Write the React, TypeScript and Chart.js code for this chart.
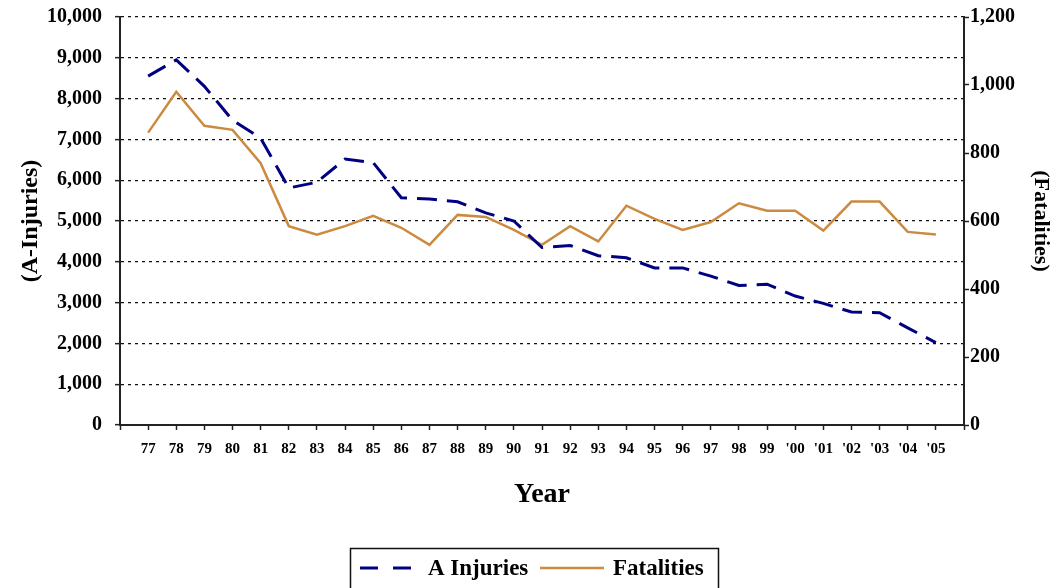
import React, { useEffect, useRef } from "react";
import { Chart, registerables } from "chart.js";

Chart.register(...registerables);

const years = [
  "77", "78", "79", "80", "81", "82", "83", "84", "85", "86",
  "87", "88", "89", "90", "91", "92", "93", "94", "95", "96",
  "97", "98", "99", "'00", "'01", "'02", "'03", "'04", "'05",
];

const aInjuries = [
  8550, 8950, 8300, 7470, 7030, 5810, 5950, 6520, 6430, 5570,
  5540, 5470, 5200, 5000, 4350, 4400, 4150, 4100, 3850, 3850,
  3650, 3420, 3450, 3160, 2980, 2770, 2750, 2380, 2020,
];

const fatalities = [
  860, 980, 880, 868, 770, 585, 560, 585, 615, 580,
  530, 618, 612, 574, 530, 585, 540, 645, 606, 574,
  597, 652, 630, 630, 572, 657, 657, 568, 560,
];

const leftTicksMax = 10000;
const leftStep = 1000;
const rightTicksMax = 1200;
const rightStep = 200;

const FONT = "'Liberation Serif', 'Times New Roman', serif";
const NAVY = "#000080";
const ORANGE = "#CC8A40";

const legendPlugin = {
  id: "boxLegend",
  afterDraw(chart: any) {
    const ctx = chart.ctx as CanvasRenderingContext2D;
    const ds = chart.data.datasets;
    ctx.save();
    ctx.strokeStyle = "#111";
    ctx.lineWidth = 1.5;
    ctx.strokeRect(350.5, 548.5, 368, 60);
    const y = 568;
    ctx.lineWidth = 3;
    ctx.strokeStyle = NAVY;
    ctx.setLineDash([18, 15]);
    ctx.beginPath();
    ctx.moveTo(360, y);
    ctx.lineTo(416, y);
    ctx.stroke();
    ctx.setLineDash([]);
    ctx.strokeStyle = ORANGE;
    ctx.lineWidth = 2.5;
    ctx.beginPath();
    ctx.moveTo(540, y);
    ctx.lineTo(604, y);
    ctx.stroke();
    ctx.fillStyle = "#000";
    ctx.font = `bold 23px ${FONT}`;
    ctx.textBaseline = "middle";
    ctx.textAlign = "left";
    ctx.fillText(ds[0].label, 428, y + 1);
    ctx.fillText(ds[1].label, 613, y + 1);
    ctx.restore();
  },
};

export default function App() {
  const ref = useRef<HTMLCanvasElement | null>(null);

  useEffect(() => {
    if (!ref.current) return;
    const labels = ["", ...years, ""];
    const chart = new Chart(ref.current, {
      type: "line",
      data: {
        labels,
        datasets: [
          {
            label: "A Injuries",
            data: [null, ...aInjuries, null],
            yAxisID: "y",
            borderColor: NAVY,
            backgroundColor: NAVY,
            borderWidth: 3,
            borderDash: [20, 10],
            pointRadius: 0,
            tension: 0,
            fill: false,
          },
          {
            label: "Fatalities",
            data: [null, ...fatalities, null],
            yAxisID: "y1",
            borderColor: ORANGE,
            backgroundColor: ORANGE,
            borderWidth: 2.5,
            pointRadius: 0,
            tension: 0,
            fill: false,
          },
        ],
      },
      options: {
        animation: false,
        responsive: false,
        devicePixelRatio: 1,
        layout: { padding: { top: 17, left: 0, right: 0, bottom: 0 } },
        plugins: {
          legend: { display: false },
          tooltip: { enabled: false },
        },
        scales: {
          x: {
            type: "category",
            offset: false,
            grid: {
              drawOnChartArea: false,
              drawTicks: true,
              tickLength: 5,
              tickColor: "#222",
              tickWidth: 1.5,
            },
            border: { color: "#222", width: 2 },
            ticks: {
              autoSkip: false,
              maxRotation: 0,
              minRotation: 0,
              padding: 10,
              color: "#000",
              font: { family: FONT, size: 15, weight: "bold" },
            },
            title: {
              display: true,
              text: "Year",
              color: "#000",
              font: { family: FONT, size: 28, weight: "bold" },
              padding: { top: 0, bottom: 76 },
            },
            afterFit: (s: any) => {
              s.height = 163;
            },
          },
          y: {
            position: "left",
            min: 0,
            max: leftTicksMax,
            grid: {
              color: "#111",
              lineWidth: 1.3,
              tickLength: 5,
              tickColor: "#222",
              tickWidth: 1.5,
            },
            border: { color: "#222", width: 2, dash: [3, 4] },
            ticks: {
              stepSize: leftStep,
              padding: 13,
              color: "#000",
              font: { family: FONT, size: 20, weight: "bold" },
              callback: (v: any) => Number(v).toLocaleString("en-US"),
            },
            title: {
              display: true,
              text: "(A-Injuries)",
              color: "#000",
              font: { family: FONT, size: 24, weight: "bold" },
              padding: { top: 16, bottom: 0 },
            },
            afterFit: (s: any) => {
              s.width = 120;
              s.paddingTop = 0;
              s.paddingBottom = 0;
            },
          },
          y1: {
            position: "right",
            min: 0,
            max: rightTicksMax,
            grid: {
              drawOnChartArea: false,
              tickLength: 5,
              tickColor: "#222",
              tickWidth: 1.5,
            },
            border: { color: "#222", width: 2 },
            ticks: {
              stepSize: rightStep,
              padding: 1,
              color: "#000",
              font: { family: FONT, size: 20, weight: "bold" },
              callback: (v: any) => Number(v).toLocaleString("en-US"),
            },
            title: {
              display: true,
              text: "(Fatalities)",
              color: "#000",
              font: { family: FONT, size: 22, weight: "bold" },
              padding: { top: 5, bottom: 0 },
            },
            afterFit: (s: any) => {
              s.width = 95;
              s.paddingTop = 0;
              s.paddingBottom = 0;
            },
          },
        },
      },
      plugins: [legendPlugin],
    });
    return () => chart.destroy();
  }, []);

  return (
    <div style={{ position: "fixed", left: 0, top: 0, width: 1059, height: 588, background: "#fff" }}>
      <canvas ref={ref} width={1059} height={588} style={{ width: 1059, height: 588, display: "block" }} />
    </div>
  );
}
